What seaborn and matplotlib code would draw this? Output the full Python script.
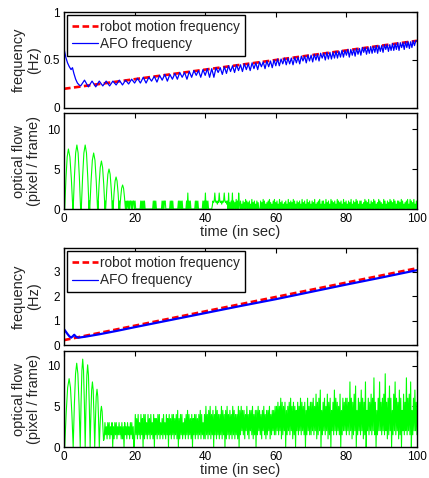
import numpy as np
import pandas as pd
import matplotlib
matplotlib.use("Agg")
import matplotlib.pyplot as plt
import seaborn as sns

# ------------------------------------------------------------------ data
time_ticks = [0, 20, 40, 60, 80, 100]

# ---- experiment 1 : frequencies (Hz)
robot1_t = [0, 100]
robot1_f = [0.20, 0.70]

afo1_t = [0.0, 0.5, 1.0, 1.5, 2.0, 2.4, 2.8, 3.3, 3.8, 4.3,
          4.72, 5.81, 6.90, 7.95, 8.99, 9.99, 10.99, 11.95, 12.92, 13.85,
          14.77, 15.67, 16.57, 17.44, 18.31, 19.16, 20.00, 20.82, 21.64, 22.45,
          23.25, 24.03, 24.81, 25.57, 26.33, 27.08, 27.82, 28.55, 29.28, 30.00,
          30.71, 31.41, 32.11, 32.80, 33.48, 34.16, 34.83, 35.50, 36.16, 36.81,
          37.46, 38.10, 38.74, 39.37, 40.00, 40.62, 41.24, 41.85, 42.46, 43.07,
          43.67, 44.26, 44.85, 45.44, 46.02, 46.60, 47.18, 47.75, 48.32, 48.88,
          49.44, 50.00, 50.55, 51.10, 51.65, 52.20, 52.74, 53.28, 53.81, 54.34,
          54.87, 55.40, 55.92, 56.44, 56.95, 57.47, 57.98, 58.49, 58.99, 59.50,
          60.00, 60.50, 61.00, 61.49, 61.98, 62.47, 62.96, 63.44, 63.92, 64.40,
          64.88, 65.36, 65.83, 66.30, 66.77, 67.24, 67.70, 68.17, 68.63, 69.09,
          69.54, 70.00, 70.45, 70.91, 71.36, 71.81, 72.25, 72.70, 73.14, 73.58,
          74.02, 74.46, 74.89, 75.33, 75.76, 76.19, 76.62, 77.05, 77.47, 77.90,
          78.32, 78.74, 79.16, 79.58, 80.00, 80.42, 80.83, 81.25, 81.66, 82.07,
          82.47, 82.88, 83.29, 83.70, 84.10, 84.50, 84.90, 85.30, 85.70, 86.10,
          86.49, 86.89, 87.28, 87.67, 88.06, 88.45, 88.84, 89.23, 89.61, 90.00,
          90.38, 90.77, 91.15, 91.53, 91.91, 92.29, 92.66, 93.04, 93.42, 93.79,
          94.16, 94.54, 94.91, 95.28, 95.65, 96.02, 96.38, 96.75, 97.11, 97.48,
          97.84, 98.20, 98.56, 98.92, 99.28, 99.64, 100.0]
# AFO frequency in 1/100 Hz
afo1_cHz = [62, 53, 47, 43, 40, 42, 36, 30, 26, 24,
            23, 29, 22, 28, 22, 28, 23, 28, 23, 28,
            24, 29, 24, 29, 25, 30, 26, 31, 26, 32,
            26, 32, 28, 33, 27, 34, 29, 35, 28, 35,
            30, 36, 30, 37, 32, 37, 30, 38, 32, 39,
            34, 39, 32, 40, 34, 41, 32, 41, 32, 42,
            37, 42, 35, 43, 36, 44, 38, 44, 37, 45,
            39, 45, 38, 46, 40, 46, 39, 47, 41, 47,
            40, 48, 43, 48, 41, 49, 43, 49, 42, 50,
            44, 51, 44, 51, 46, 52, 45, 52, 46, 52,
            45, 53, 47, 53, 46, 54, 49, 54, 47, 55,
            49, 55, 48, 56, 50, 56, 49, 57, 52, 57,
            50, 58, 51, 58, 51, 58, 52, 59, 52, 59,
            53, 60, 53, 60, 55, 61, 53, 61, 55, 61,
            54, 62, 56, 62, 55, 63, 58, 63, 56, 63,
            57, 64, 57, 64, 58, 65, 57, 65, 59, 65,
            58, 66, 61, 66, 59, 66, 60, 67, 60, 67,
            61, 68, 60, 68, 63, 68, 61, 69, 63, 69,
            62, 69, 63, 70, 65, 70, 70]

# ---- experiment 1 : optical flow (pixel / frame)
flow1_head_t = [0.0, 0.1,
                0.2, 0.55, 0.9, 1.25, 1.67, 2.08, 2.5,
                2.6, 2.95, 3.3, 3.65, 4.0, 4.35, 4.7,
                4.9, 5.27, 5.63, 6.0, 6.37, 6.73, 7.1, 7.15, 7.25,
                7.3, 7.67, 8.03, 8.4, 8.77, 9.13, 9.5, 9.52, 9.58,
                9.6, 9.93, 10.27, 10.6, 10.93, 11.27, 11.6, 11.65, 11.75,
                11.8, 12.12, 12.43, 12.75, 13.07, 13.38, 13.7, 13.75, 13.85,
                13.9, 14.18, 14.47, 14.75, 15.03, 15.32, 15.6, 15.65, 15.75,
                15.8, 16.07, 16.33, 16.6, 16.87, 17.13, 17.4, 17.6, 17.7]
flow1_head_v = [12.5, 0.0,
                0.0, 3.8, 6.5, 7.5, 6.5, 3.8, 0.0,
                0.0, 4.0, 7.0, 8.0, 7.0, 4.0, 0.0,
                0.0, 4.0, 7.0, 8.0, 7.0, 4.0, 0.0, 1.0, 0.0,
                0.0, 3.5, 6.1, 7.0, 6.1, 3.5, 0.0, 1.0, 0.0,
                0.0, 3.0, 5.2, 6.0, 5.2, 3.0, 0.0, 1.0, 0.0,
                0.0, 2.5, 4.35, 5.0, 4.35, 2.5, 0.0, 1.0, 0.0,
                0.0, 2.0, 3.5, 4.0, 3.5, 2.0, 0.0, 1.0, 0.0,
                0.0, 1.5, 2.6, 3.0, 2.6, 1.5, 0.0, 1.0, 0.0]
# t = 18 .. 100 s, one character per sample, value = code index * 0.2
flow1_tail_rows = [
    "5050550505",
    "5050" "000000" "050505050" "00000000000" "0505050" "0000000" "050505",
    "50" "00000" "0505050" "000000" "05050505" "00000" "050A05050" "00000" "050",
    "50500" "0000" "05050A05050" "00000" "2545A545354A5453545A54535",
    "0A04050A050406050A405030504060504050306040503050400",
    "05040605030405060403050604050306040503040503060405",
    "04060503050405030604050306040503050406030405060305",
    "05030604050306050405030605040503060405030504060305",
    "04060503050503040605040603050406050304060504030605",
    "030504060504060503050504060503040506030605040603050",
]

# ---- experiment 2 : frequencies (Hz)
robot2_t = [0, 100]
robot2_f = [0.20, 3.15]
afo2_t = [0, 0.5, 1.0, 1.5, 2.0, 2.5, 2.9, 3.4, 4.0, 5, 6, 8, 10,
          15, 20, 30, 40, 50, 60, 70, 80, 90, 100]
afo2_f = [0.65, 0.55, 0.45, 0.36, 0.30, 0.36, 0.42, 0.34, 0.30, 0.32, 0.34,
          0.39, 0.44, 0.58, 0.73, 1.02, 1.31, 1.60, 1.88, 2.18, 2.48, 2.77, 3.07]

# ---- experiment 2 : optical flow (pixel / frame)
flow2_head_t = [0.0, 0.1,
                0.2, 0.62, 1.03, 1.45, 1.83, 2.22, 2.6,
                2.93, 3.27, 3.6, 3.93, 4.27, 4.6,
                4.83, 5.07, 5.3, 5.53, 5.77, 6.0,
                6.23, 6.47, 6.7, 6.93, 7.17, 7.4,
                7.62, 7.83, 8.05, 8.27, 8.48, 8.7,
                8.92, 9.13, 9.35, 9.57, 9.78, 10.0,
                10.2, 10.4, 10.6, 10.8, 11.0, 11.2]
flow2_head_v = [11.7, 0.0,
                0.0, 4.2, 7.3, 8.4, 7.3, 4.2, 0.0,
                5.15, 9.0, 10.3, 9.0, 5.15, 0.0,
                5.4, 9.4, 10.8, 9.4, 5.4, 0.0,
                5.05, 8.8, 10.1, 8.8, 5.05, 0.0,
                4.0, 7.0, 8.0, 7.0, 4.0, 0.0,
                3.55, 6.2, 7.1, 6.2, 3.55, 0.0,
                2.5, 4.35, 5.0, 4.35, 2.5, 0.8]
# t = 11.4 .. 100 s, one character per sample, value = code index * 0.5
flow2_tail_rows = [
    "2635263625360526362536352625063526352636250",
    "28372836283708283628372836280737283826372836283708",
    "37283827382907283826372839283728073828372839283628",
    "2A38293A2839083A2938283A2938092A3829382A3928382A09",
    "3A4939284A3829493A2839093A4938294A3829394A2839493A",
    "3A4B3A4C2B3A4B093A4B3C4A2B3A094B3A4C3B4A3B093C4A3B",
    "3B4C3A4D2B3C4E093B4C3A4D2B3C094B3E4C3B4A3D093C4B4C",
    "3C4B3G4C2B3D4F093C4B3E4C2B3G094C3B4D3C4H3B093C4G4B",
    "3C4D3I4B2C3F4C093D4G3C4B2E3C094D3B4H3C4D3G093C4E4B3",
]
CODE = "0123456789ABCDEFGHIJ"


def decode(rows, step):
    s = "".join(rows)
    return [CODE.index(c) * step for c in s]


# ------------------------------------------------------------ build frames
afo1_df = pd.DataFrame({"t": afo1_t, "f": np.array(afo1_cHz) / 100.0})
robot1_df = pd.DataFrame({"t": robot1_t, "f": robot1_f})
robot2_df = pd.DataFrame({"t": robot2_t, "f": robot2_f})
afo2_df = pd.DataFrame({"t": afo2_t, "f": afo2_f})

tail1 = decode(flow1_tail_rows, 0.2)
flow1_df = pd.DataFrame({
    "t": np.concatenate([flow1_head_t, np.linspace(18.0, 100.0, len(tail1))]),
    "v": np.concatenate([flow1_head_v, tail1])})
tail2 = decode(flow2_tail_rows, 0.5)
flow2_df = pd.DataFrame({
    "t": np.concatenate([flow2_head_t, np.linspace(11.4, 100.0, len(tail2))]),
    "v": np.concatenate([flow2_head_v, tail2])})

# ------------------------------------------------------------------ style
sns.set_style("white")
plt.rcParams["font.family"] = ["Liberation Sans", "DejaVu Sans"]
plt.rcParams["axes.edgecolor"] = "black"
plt.rcParams["axes.linewidth"] = 1.0

RED, BLUE, GREEN = "#ff0000", "#0000ff", "#00ff00"
W_PX, H_PX = 429, 478
fig = plt.figure(figsize=(W_PX / 100, H_PX / 100), dpi=100)


def add_ax(top, bottom, left=64, right=417):
    return fig.add_axes([left / W_PX, 1 - bottom / H_PX,
                         (right - left) / W_PX, (bottom - top) / H_PX])


ax1 = add_ax(12, 108)
ax2 = add_ax(113, 209)
ax3 = add_ax(248, 345)
ax4 = add_ax(351, 447)

LABEL_X = (41 - 64) / (417 - 64)


def freq_panel(ax, rdf, adf, blue_lw, ymax, yticks, yticklabels):
    sns.lineplot(data=rdf, x="t", y="f", ax=ax, color=RED, linewidth=1.9,
                 estimator=None, sort=False, label="robot motion frequency")
    ax.lines[-1].set_linestyle((0, (2.5, 1.3)))
    sns.lineplot(data=adf, x="t", y="f", ax=ax, color=BLUE, linewidth=blue_lw,
                 estimator=None, sort=False, label="AFO frequency")
    ax.set_ylim(0, ymax)
    ax.set_yticks(yticks)
    ax.set_yticklabels(yticklabels)
    ax.set_ylabel("frequency\n(Hz)", fontsize=10.5, linespacing=1.1)
    ax.yaxis.set_label_coords(LABEL_X, 0.5)
    leg = ax.legend(loc="upper left", bbox_to_anchor=(0.0085, 0.968),
                    borderaxespad=0, fontsize=9.8, handlelength=1.9,
                    handletextpad=0.2, borderpad=0.35, labelspacing=0.25,
                    frameon=True, fancybox=False, edgecolor="black",
                    framealpha=1)
    leg.get_frame().set_linewidth(1.0)
    leg.legend_handles[1].set_linewidth(0.9)


def flow_panel(ax, df, ymax):
    sns.lineplot(data=df, x="t", y="v", ax=ax, color=GREEN, linewidth=0.8,
                 estimator=None, sort=False)
    ax.set_ylim(0, ymax)
    ax.set_yticks([0, 5, 10])
    ax.set_ylabel("optical flow\n(pixel / frame)", fontsize=10.5,
                  linespacing=1.1)
    ax.yaxis.set_label_coords(LABEL_X, 0.5)
    ax.set_xlabel("time (in sec)", fontsize=10.5, labelpad=0)


freq_panel(ax1, robot1_df, afo1_df, 0.9, 1.0, [0, 0.5, 1], ["0", "0.5", "1"])
flow_panel(ax2, flow1_df, 12)
freq_panel(ax3, robot2_df, afo2_df, 1.6, 3.98, [0, 1, 2, 3],
           ["0", "1", "2", "3"])
flow_panel(ax4, flow2_df, 11.8)

for ax in (ax1, ax2, ax3, ax4):
    ax.set_xlim(0, 100)
    ax.set_xticks(time_ticks)
    ax.tick_params(direction="in", length=3.5, width=0.8, top=True,
                   right=True, labelsize=8.5, pad=3, colors="black")
    for sp in ax.spines.values():
        sp.set_visible(True)
        sp.set_color("black")
        sp.set_linewidth(1.0)
for ax in (ax1, ax3):
    ax.set_xlabel("")
    ax.tick_params(labelbottom=False)

fig.savefig("out.png", dpi=100)
